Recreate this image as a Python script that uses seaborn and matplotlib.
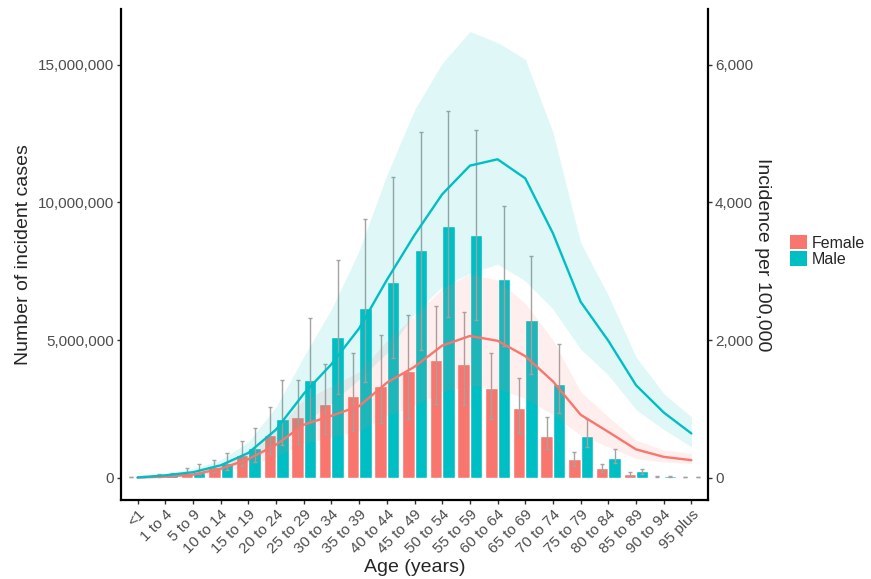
import numpy as np
import pandas as pd
import matplotlib
matplotlib.use('Agg')
import matplotlib.pyplot as plt
from matplotlib.patches import Patch
from matplotlib.ticker import StrMethodFormatter
import seaborn as sns

# age groups
ages = ['<1', '1 to 4', '5 to 9', '10 to 14', '15 to 19', '20 to 24', '25 to 29',
        '30 to 34', '35 to 39', '40 to 44', '45 to 49', '50 to 54', '55 to 59',
        '60 to 64', '65 to 69', '70 to 74', '75 to 79', '80 to 84', '85 to 89',
        '90 to 94', '95 plus']

# incident cases (millions) with uncertainty interval
female_cases = [0.02, 0.07, 0.17, 0.39, 0.82, 1.55, 2.21, 2.67, 2.97, 3.35, 3.88,
                4.27, 4.14, 3.27, 2.54, 1.51, 0.67, 0.35, 0.13, 0.04, 0.02]
female_lo = [0.01, 0.04, 0.10, 0.19, 0.42, 0.85, 1.24, 1.60, 1.69, 2.00, 2.13,
             2.68, 2.65, 2.13, 1.62, 1.04, 0.43, 0.21, 0.06, 0.02, 0.01]
female_hi = [0.04, 0.14, 0.36, 0.65, 1.34, 2.57, 3.56, 4.12, 4.54, 5.17, 5.92,
             6.25, 6.03, 4.54, 3.64, 2.19, 0.92, 0.48, 0.19, 0.06, 0.03]
male_cases = [0.03, 0.10, 0.21, 0.55, 1.08, 2.13, 3.55, 5.11, 6.16, 7.10, 8.27,
              9.15, 8.82, 7.22, 5.73, 3.40, 1.52, 0.71, 0.25, 0.06, 0.02]
male_lo = [0.01, 0.05, 0.12, 0.27, 0.57, 1.18, 2.03, 3.03, 3.47, 4.36, 4.65,
           5.85, 5.73, 4.80, 3.76, 2.35, 1.10, 0.52, 0.15, 0.04, 0.01]
male_hi = [0.05, 0.18, 0.49, 0.88, 1.79, 3.56, 5.79, 7.92, 9.39, 10.91, 12.57,
           13.33, 12.65, 9.87, 8.04, 4.87, 2.12, 1.03, 0.33, 0.08, 0.03]

# incidence per 100,000 with uncertainty band
female_rate = [3, 15, 45, 130, 270, 480, 770, 900, 1040, 1380, 1612, 1920, 2060,
               1990, 1767, 1400, 915, 666, 412, 303, 255]
female_rate_lo = [2, 10, 28, 85, 175, 310, 500, 590, 680, 900, 1050, 1250, 1340,
                  1300, 1150, 920, 618, 448, 279, 230, 206]
female_rate_hi = [5, 25, 70, 195, 400, 710, 1130, 1330, 1540, 1990, 2350, 2750, 2960,
                  2870, 2533, 2000, 1248, 885, 545, 400, 352]
male_rate = [3, 35, 80, 180, 360, 700, 1220, 1650, 2170, 2873, 3527, 4119, 4535,
             4628, 4351, 3552, 2557, 1990, 1345, 948, 643]
male_rate_lo = [2, 22, 50, 115, 235, 460, 800, 1080, 1430, 1811, 2388, 2776, 2970,
                3105, 2860, 2450, 1870, 1491, 990, 700, 448]
male_rate_hi = [5, 55, 130, 260, 520, 1030, 1760, 2450, 3300, 4400, 5345, 6025, 6484,
                6325, 6083, 5020, 3420, 2650, 1757, 1224, 885]

sexes = ['Female', 'Male']
colors = {'Female': '#F8766D', 'Male': '#00BFC4'}
scale = 2500  # cases per unit of incidence on the secondary axis

df = pd.DataFrame({
    'Age': ages * 2,
    'Cases': np.array(female_cases + male_cases) * 1e6,
    'Sex': ['Female'] * len(ages) + ['Male'] * len(ages),
})

sns.set_style('white')
plt.rcParams['font.family'] = ['Liberation Sans', 'DejaVu Sans']

fig = plt.figure(figsize=(8.71, 5.79), dpi=100)
ax = fig.add_axes([121 / 871, 1 - 500 / 579, (708 - 121) / 871, (500 - 9) / 579])

sns.barplot(data=df, x='Age', y='Cases', hue='Sex', hue_order=sexes, palette=colors,
            width=0.9, saturation=1, errorbar=None, legend=False, ax=ax)

# uncertainty bars for cases, centred on each bar
for cont, lo, hi in zip(ax.containers, [female_lo, male_lo], [female_hi, male_hi]):
    xc = [p.get_x() + p.get_width() / 2 for p in cont]
    lo = np.array(lo) * 1e6
    hi = np.array(hi) * 1e6
    ax.errorbar(xc, (lo + hi) / 2, yerr=(hi - lo) / 2, fmt='none', ecolor='#A3A3A3',
                elinewidth=1.0, capsize=1.6, capthick=1.0, zorder=3)

ax.set_xlim(-0.6, len(ages) - 0.4)
ax.set_ylim(-0.81e6, 17.03e6)
ax.set_yticks([0, 5e6, 10e6, 15e6])
ax.yaxis.set_major_formatter(StrMethodFormatter('{x:,.0f}'))

# incidence lines on secondary axis
ax2 = ax.twinx()
xs = np.arange(len(ages))
for sex, rate, rlo, rhi in [('Female', female_rate, female_rate_lo, female_rate_hi),
                            ('Male', male_rate, male_rate_lo, male_rate_hi)]:
    ax2.fill_between(xs, rlo, rhi, color=colors[sex], alpha=0.12, lw=0)
    sns.lineplot(x=xs, y=rate, color=colors[sex], lw=1.7, ax=ax2)
ax2.set_ylim(-0.81e6 / scale, 17.03e6 / scale)
ax2.set_yticks([0, 2000, 4000, 6000])
ax2.yaxis.set_major_formatter(StrMethodFormatter('{x:,.0f}'))

for a in (ax, ax2):
    for s in a.spines.values():
        s.set_linewidth(1.6)
        s.set_color('black')
    a.spines['top'].set_visible(False)
    a.tick_params(axis='both', length=3, width=1, color='#333333',
                  labelsize=11, labelcolor='#4D4D4D', pad=2)
ax.spines['right'].set_visible(False)
ax2.spines['left'].set_visible(False)
ax2.spines['bottom'].set_visible(False)
ax.tick_params(axis='both', left=True, bottom=True)
ax2.tick_params(axis='y', right=True)

ax.set_xticks(range(len(ages)))
ax.set_xticklabels(ages, rotation=45, ha='right', rotation_mode='anchor')
ax.set_xlabel('Age (years)', fontsize=14, labelpad=2)
ax.set_ylabel('Number of incident cases', fontsize=14, labelpad=4)
ax2.set_ylabel('Incidence per 100,000', fontsize=14, rotation=270, labelpad=13)

handles = [Patch(facecolor=colors[s], edgecolor='none', label=s) for s in sexes]
fig.legend(handles=handles, loc='upper left', bbox_to_anchor=(790 / 871, 1 - 235 / 579),
           frameon=False, fontsize=11.5, handlelength=1.05, handleheight=1.0,
           handletextpad=0.3, labelspacing=0.05, borderpad=0, borderaxespad=0)

fig.savefig('out.png', dpi=100)
